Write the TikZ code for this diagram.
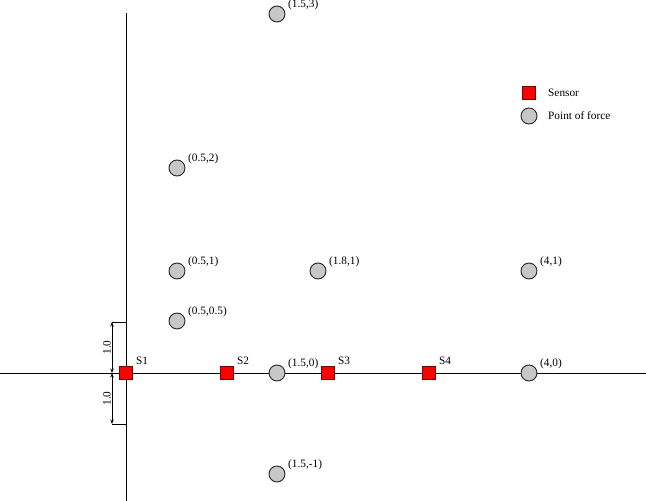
\documentclass[tikz,border=0pt]{standalone}
\usepackage{fontspec}
\setmainfont{Liberation Serif}
\usetikzlibrary{arrows.meta}
\begin{document}
\begin{tikzpicture}[x=1pt,y=-1pt,
  pf/.style={circle,draw=black!85,fill=black!22,line width=0.9pt,minimum size=16pt,inner sep=0},
  sensor/.style={rectangle,draw=red!45!black,fill=red,line width=0.8pt,minimum size=13pt,inner sep=0},
  lbl/.style={font=\fontsize{11.3}{13}\selectfont,inner sep=0,anchor=west},
  axis/.style={line width=0.9pt},
  dim/.style={line width=0.8pt,{Stealth[length=4.5pt,width=3.5pt]}-{Stealth[length=4.5pt,width=3.5pt]}}]
\useasboundingbox (0,0) rectangle (646,501);
% axes
\coordinate (xl) at (0,373);
\coordinate (xr) at (646,373);
\coordinate (yt) at (126,13);
\coordinate (yb) at (126,501);
\draw[axis] (xl) -- (xr);
\draw[axis] (yt) -- (yb);
% dimension
\coordinate (d1) at (112,322);
\coordinate (d2) at (112,373);
\coordinate (d3) at (112,424);
\coordinate (t1) at (126,322);
\coordinate (t3) at (126,424);
\draw[line width=0.9pt] (t1) -- (d1);
\draw[line width=0.9pt] (t3) -- (d3);
\draw[dim] (d1) -- (d2);
\draw[dim] (d2) -- (d3);
\node[font=\fontsize{11.3}{13}\selectfont,rotate=90,anchor=south,inner sep=1pt] (dl1) at (112,347.5) {1.0};
\node[font=\fontsize{11.3}{13}\selectfont,rotate=90,anchor=south,inner sep=1pt] (dl2) at (112,398.5) {1.0};
% points of force
\node[pf] (p1) at (277,14) {};
\node[lbl] (lp1) at (288,5) {(1.5,3)};
\node[pf] (p2) at (177,168) {};
\node[lbl] (lp2) at (188,159) {(0.5,2)};
\node[pf] (p3) at (177,271) {};
\node[lbl] (lp3) at (188,262) {(0.5,1)};
\node[pf] (p4) at (318,271) {};
\node[lbl] (lp4) at (329,262) {(1.8,1)};
\node[pf] (p5) at (529,271) {};
\node[lbl] (lp5) at (540,262) {(4,1)};
\node[pf] (p6) at (177,321) {};
\node[lbl] (lp6) at (188,312) {(0.5,0.5)};
\node[pf] (p7) at (277,373) {};
\node[lbl] (lp7) at (288,364) {(1.5,0)};
\node[pf] (p8) at (529,373) {};
\node[lbl] (lp8) at (540,364) {(4,0)};
\node[pf] (p9) at (277,474) {};
\node[lbl] (lp9) at (288,465) {(1.5,-1)};
% sensors
\node[sensor] (s1) at (126,373) {};
\node[lbl] (ls1) at (136,361) {S1};
\node[sensor] (s2) at (227,373) {};
\node[lbl] (ls2) at (237,361) {S2};
\node[sensor] (s3) at (328,373) {};
\node[lbl] (ls3) at (338,361) {S3};
\node[sensor] (s4) at (429,373) {};
\node[lbl] (ls4) at (439,361) {S4};
% legend
\node[sensor] (legs) at (529,93) {};
\node[lbl] (legst) at (548,93) {Sensor};
\node[pf] (legp) at (529,116) {};
\node[lbl] (legpt) at (548,116) {Point of force};
\end{tikzpicture}
\end{document}
